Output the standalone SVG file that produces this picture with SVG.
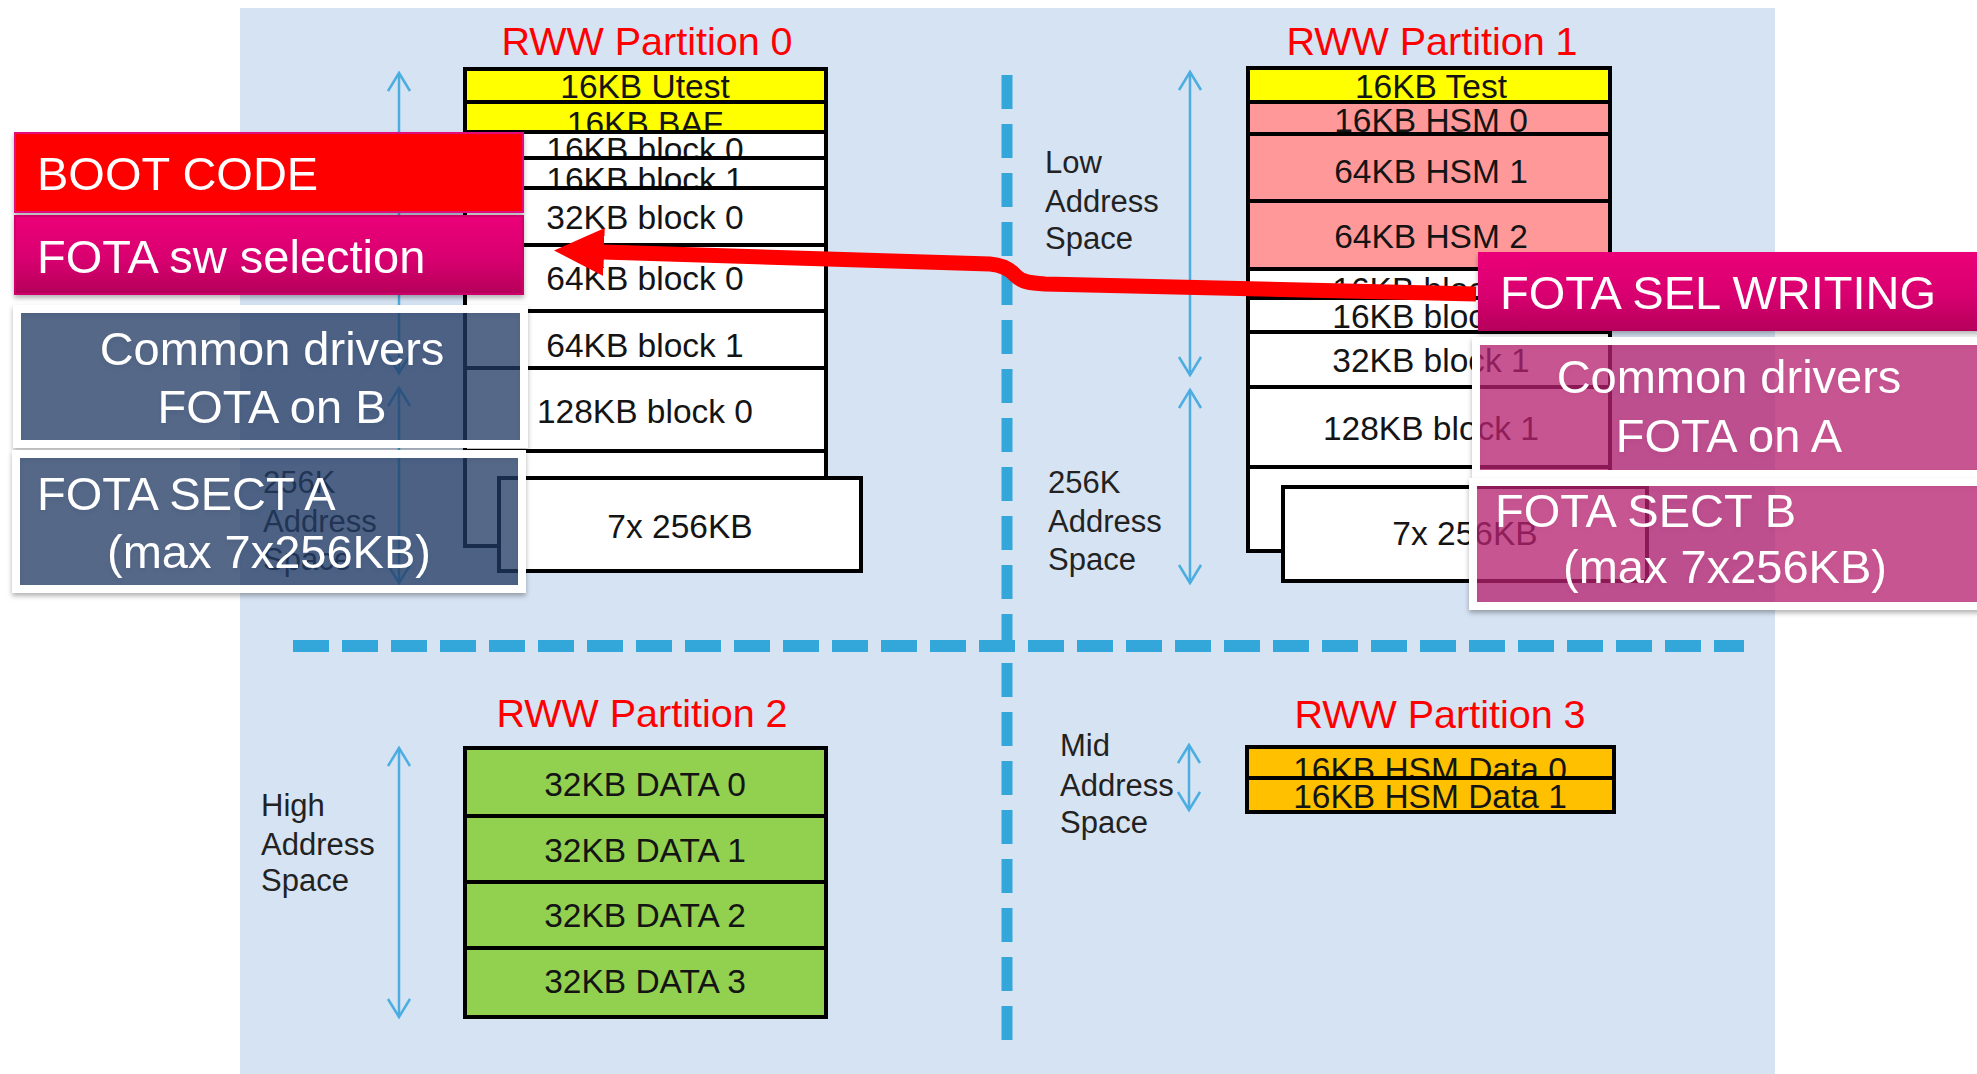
<svg xmlns="http://www.w3.org/2000/svg" width="1977" height="1074" viewBox="0 0 1977 1074">
<defs>
<style>
.title{font-family:"Liberation Sans",Arial,sans-serif;font-size:39.5px;fill:#FF0000;text-anchor:middle}
.row{stroke:#000;stroke-width:4}
.rt{font-family:"Liberation Sans",Arial,sans-serif;font-size:33.5px;fill:#141414;text-anchor:middle}
.lbl{font-family:"Liberation Sans",Arial,sans-serif;font-size:31px;fill:#222}
.ov{font-family:"Liberation Sans",Arial,sans-serif;font-size:47px;fill:#fff}
.ovm{font-family:"Liberation Sans",Arial,sans-serif;font-size:47px;fill:#fff;text-anchor:middle}
.axis{stroke:#4BADE0;stroke-width:2.5;fill:none;marker-start:url(#open);marker-end:url(#open)}
.y{fill:#FFFF00}.p{fill:#FF9999}.w{fill:#fff}.g{fill:#92D050}.o{fill:#FFC000}
.slate{fill:#223A66;fill-opacity:0.7;stroke:#fff;stroke-width:8}
.pink{fill:#BC2274;fill-opacity:0.7;stroke:#fff;stroke-width:8}
</style>
<linearGradient id="mag" x1="0" y1="0" x2="0" y2="1">
<stop offset="0" stop-color="#EC0079"/>
<stop offset="0.55" stop-color="#D8006F"/>
<stop offset="1" stop-color="#B5005A"/>
</linearGradient>
<marker id="open" markerUnits="userSpaceOnUse" markerWidth="24" markerHeight="26" refX="19" refY="12" orient="auto-start-reverse" viewBox="0 0 24 26">
<path d="M1,1 L19,12 L1,23" fill="none" stroke="#4BADE0" stroke-width="2.5"/>
</marker>
<marker id="redhead" markerUnits="userSpaceOnUse" markerWidth="52" markerHeight="50" refX="1" refY="24" orient="auto" viewBox="0 0 52 50">
<path d="M0,0 L50,24 L0,48 z" fill="#FF0000"/>
</marker>
<filter id="sh" x="-5%" y="-10%" width="110%" height="130%">
<feDropShadow dx="0" dy="3" stdDeviation="2.5" flood-color="#000" flood-opacity="0.3"/>
</filter>
</defs>

<rect x="240" y="8" width="1535" height="1066" fill="#D6E3F3"/>

<g id="dividers" fill="none" stroke="#33A6DA">
<line x1="1007" y1="75" x2="1007" y2="1040" stroke-width="11" stroke-dasharray="34 15"/>
<line x1="293" y1="646" x2="1744" y2="646" stroke-width="12" stroke-dasharray="36 13"/>
</g>

<g id="partition0">
<text class="title" x="647" y="55">RWW Partition 0</text>
<rect class="row w" x="465" y="69" width="361" height="477"/>
<rect class="row y" x="465" y="69" width="361" height="33"/><text class="rt" x="645" y="98">16KB Utest</text>
<rect class="row y" x="465" y="102" width="361" height="30"/><text class="rt" x="645" y="135">16KB BAF</text>
<rect class="row w" x="465" y="132" width="361" height="26"/><text class="rt" x="645" y="161">16KB block 0</text>
<rect class="row w" x="465" y="158" width="361" height="30"/><text class="rt" x="645" y="191">16KB block 1</text>
<rect class="row w" x="465" y="188" width="361" height="57"/><text class="rt" x="645" y="229">32KB block 0</text>
<rect class="row w" x="465" y="245" width="361" height="66"/><text class="rt" x="645" y="290">64KB block 0</text>
<rect class="row w" x="465" y="311" width="361" height="57"/><text class="rt" x="645" y="357">64KB block 1</text>
<rect class="row w" x="465" y="368" width="361" height="83"/><text class="rt" x="645" y="423">128KB block 0</text>
<rect class="row w" x="465" y="451" width="361" height="95"/>
<rect class="row w" x="499" y="478" width="362" height="93"/><text class="rt" x="680" y="538">7x 256KB</text>
</g>

<g id="partition1">
<text class="title" x="1432" y="55">RWW Partition 1</text>
<rect class="row w" x="1248" y="68" width="362" height="483"/>
<rect class="row y" x="1248" y="68" width="362" height="34"/><text class="rt" x="1431" y="98">16KB Test</text>
<rect class="row p" x="1248" y="102" width="362" height="32"/><text class="rt" x="1431" y="132">16KB HSM 0</text>
<rect class="row p" x="1248" y="134" width="362" height="67"/><text class="rt" x="1431" y="183">64KB HSM 1</text>
<rect class="row p" x="1248" y="201" width="362" height="68"/><text class="rt" x="1431" y="248">64KB HSM 2</text>
<rect class="row w" x="1248" y="269" width="362" height="29"/><text class="rt" x="1431" y="301">16KB block 0</text>
<rect class="row w" x="1248" y="298" width="362" height="34"/><text class="rt" x="1431" y="328">16KB block 1</text>
<rect class="row w" x="1248" y="332" width="362" height="55"/><text class="rt" x="1431" y="372">32KB block 1</text>
<rect class="row w" x="1248" y="387" width="362" height="80"/><text class="rt" x="1431" y="440">128KB block 1</text>
<rect class="row w" x="1248" y="467" width="362" height="84"/>
<rect class="row w" x="1283" y="487" width="364" height="94"/><text class="rt" x="1465" y="545">7x 256KB</text>
</g>

<g id="partition2">
<text class="title" x="642" y="727">RWW Partition 2</text>
<rect class="row g" x="465" y="748" width="361" height="68"/><text class="rt" x="645" y="796">32KB DATA 0</text>
<rect class="row g" x="465" y="816" width="361" height="66"/><text class="rt" x="645" y="862">32KB DATA 1</text>
<rect class="row g" x="465" y="882" width="361" height="66"/><text class="rt" x="645" y="927">32KB DATA 2</text>
<rect class="row g" x="465" y="948" width="361" height="69"/><text class="rt" x="645" y="993">32KB DATA 3</text>
</g>

<g id="partition3">
<text class="title" x="1440" y="728">RWW Partition 3</text>
<rect class="row o" x="1247" y="747" width="367" height="31"/><text class="rt" x="1430" y="781">16KB HSM Data 0</text>
<rect class="row o" x="1247" y="778" width="367" height="34"/><text class="rt" x="1430" y="808">16KB HSM Data 1</text>
</g>

<g id="address-labels">
<text class="lbl" x="260" y="173">Low</text><text class="lbl" x="260" y="212">Address</text><text class="lbl" x="260" y="249">Space</text>
<text class="lbl" x="263" y="493">256K</text><text class="lbl" x="263" y="532">Address</text><text class="lbl" x="263" y="570">Space</text>
<text class="lbl" x="1045" y="173">Low</text><text class="lbl" x="1045" y="212">Address</text><text class="lbl" x="1045" y="249">Space</text>
<text class="lbl" x="1048" y="493">256K</text><text class="lbl" x="1048" y="532">Address</text><text class="lbl" x="1048" y="570">Space</text>
<text class="lbl" x="261" y="816">High</text><text class="lbl" x="261" y="855">Address</text><text class="lbl" x="261" y="891">Space</text>
<text class="lbl" x="1060" y="756">Mid</text><text class="lbl" x="1060" y="796">Address</text><text class="lbl" x="1060" y="833">Space</text>
</g>

<g id="connectors">
<line class="axis" x1="399" y1="73" x2="399" y2="373"/>
<line class="axis" x1="399" y1="388" x2="399" y2="583"/>
<line class="axis" x1="1190" y1="72" x2="1190" y2="375"/>
<line class="axis" x1="1190" y1="390" x2="1190" y2="583"/>
<line class="axis" x1="399" y1="748" x2="399" y2="1017"/>
<line class="axis" x1="1189" y1="745" x2="1189" y2="810"/>
<path d="M1476,294 L1045,284 C1030,283 1022,282 1016,276 C1010,269 1003,265 990,264 L603,252" fill="none" stroke="#FF0000" stroke-width="15" marker-end="url(#redhead)"/>
</g>

<g id="boot-code" filter="url(#sh)">
<rect x="15" y="133" width="508" height="79" fill="#FF0000" stroke="#E2107A" stroke-width="2"/>
<text class="ov" x="37" y="190">BOOT CODE</text>
</g>
<g id="fota-sw-selection" filter="url(#sh)">
<rect x="15" y="216" width="508" height="78" fill="url(#mag)" stroke="#D0006A" stroke-width="2"/>
<text class="ov" x="37" y="273">FOTA sw selection</text>
</g>
<g id="common-drivers-b" filter="url(#sh)">
<rect class="slate" x="17" y="309" width="507" height="135"/>
<text class="ovm" x="272" y="365">Common drivers</text>
<text class="ovm" x="272" y="423">FOTA on B</text>
</g>
<g id="fota-sect-a" filter="url(#sh)">
<rect class="slate" x="16" y="454" width="506" height="135"/>
<text class="ov" x="37" y="510">FOTA SECT A</text>
<text class="ov" x="107" y="568">(max 7x256KB)</text>
</g>
<g id="fota-sel-writing" filter="url(#sh)">
<rect x="1478" y="252" width="510" height="79" fill="url(#mag)"/>
<text class="ov" x="1500" y="309">FOTA SEL WRITING</text>
</g>
<g id="common-drivers-a" filter="url(#sh)">
<rect class="pink" x="1476" y="341" width="520" height="133"/>
<text class="ovm" x="1729" y="393">Common drivers</text>
<text class="ovm" x="1729" y="452">FOTA on A</text>
</g>
<g id="fota-sect-b" filter="url(#sh)">
<rect class="pink" x="1473" y="482" width="520" height="124"/>
<text class="ov" x="1495" y="527">FOTA SECT B</text>
<text class="ov" x="1563" y="583">(max 7x256KB)</text>
</g>
</svg>
